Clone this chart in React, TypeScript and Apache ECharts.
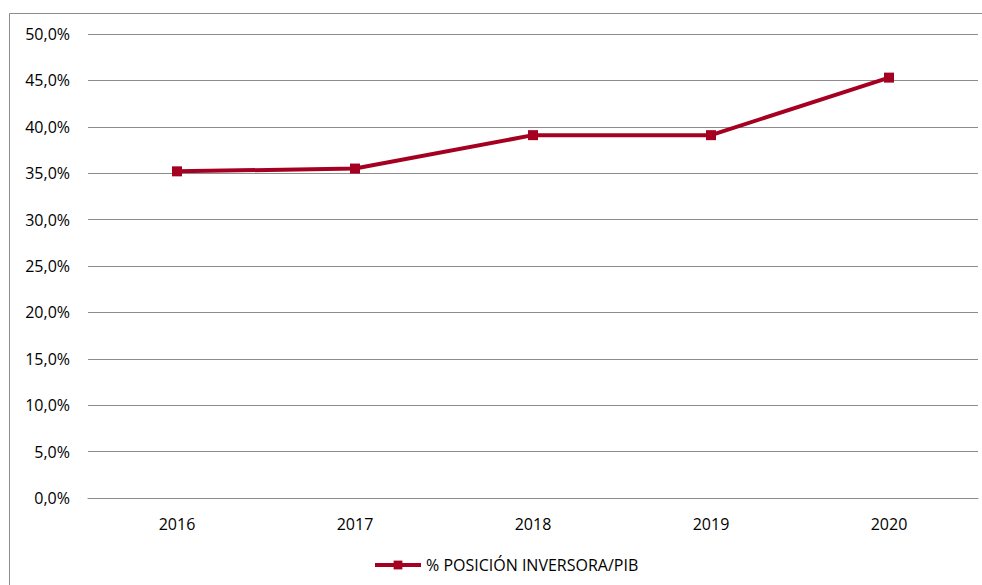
import React, { useEffect, useRef } from "react";
import * as echarts from "echarts";

const categories = ["2016", "2017", "2018", "2019", "2020"];
const values = [35.2, 35.5, 39.1, 39.1, 45.3];
const seriesName = "% POSICIÓN INVERSORA/PIB";

export default function App() {
  const ref = useRef<HTMLDivElement>(null);
  useEffect(() => {
    const chart = echarts.init(ref.current!, null, { renderer: "svg" });
    const font = "'Open Sans', 'Noto Sans', sans-serif";
    chart.setOption({
      animation: false,
      backgroundColor: "#ffffff",
      graphic: [
        {
          type: "rect",
          shape: { x: 9.5, y: 13.5, width: 1000, height: 600 },
          style: { fill: "none", stroke: "#8c8c8c", lineWidth: 1 },
          silent: true,
        },
      ],
      grid: { left: 88, right: 4, top: 34, bottom: 87 },
      xAxis: {
        type: "category",
        data: categories,
        boundaryGap: true,
        axisLine: { show: true, lineStyle: { color: "#8c8c8c", width: 1 } },
        axisTick: { show: false },
        axisLabel: { color: "#000", fontSize: 16, fontFamily: font, margin: 18 },
      },
      yAxis: {
        type: "value",
        min: 0,
        max: 50,
        interval: 5,
        axisLine: { show: false },
        axisTick: { show: false },
        splitLine: { lineStyle: { color: "#8c8c8c", width: 1 } },
        axisLabel: {
          color: "#000",
          fontSize: 16,
          fontFamily: font,
          margin: 18,
          formatter: (v: number) => v.toFixed(1).replace(".", ",") + "%",
        },
      },
      legend: {
        bottom: 7,
        left: 368,
        itemWidth: 46,
        itemHeight: 11,
        textStyle: { color: "#000", fontSize: 16, fontFamily: font },
        itemGap: 2,
        lineStyle: { width: 4 },
        data: [{ name: seriesName }],
      },
      series: [
        {
          name: seriesName,
          type: "line",
          data: values,
          symbol: "rect",
          symbolSize: 10,
          lineStyle: { color: "#A50021", width: 4 },
          itemStyle: { color: "#A50021" },
        },
      ],
    });
    return () => chart.dispose();
  }, []);
  return (
    <div
      ref={ref}
      style={{ position: "absolute", left: 0, top: 0, width: 982, height: 585 }}
    />
  );
}
